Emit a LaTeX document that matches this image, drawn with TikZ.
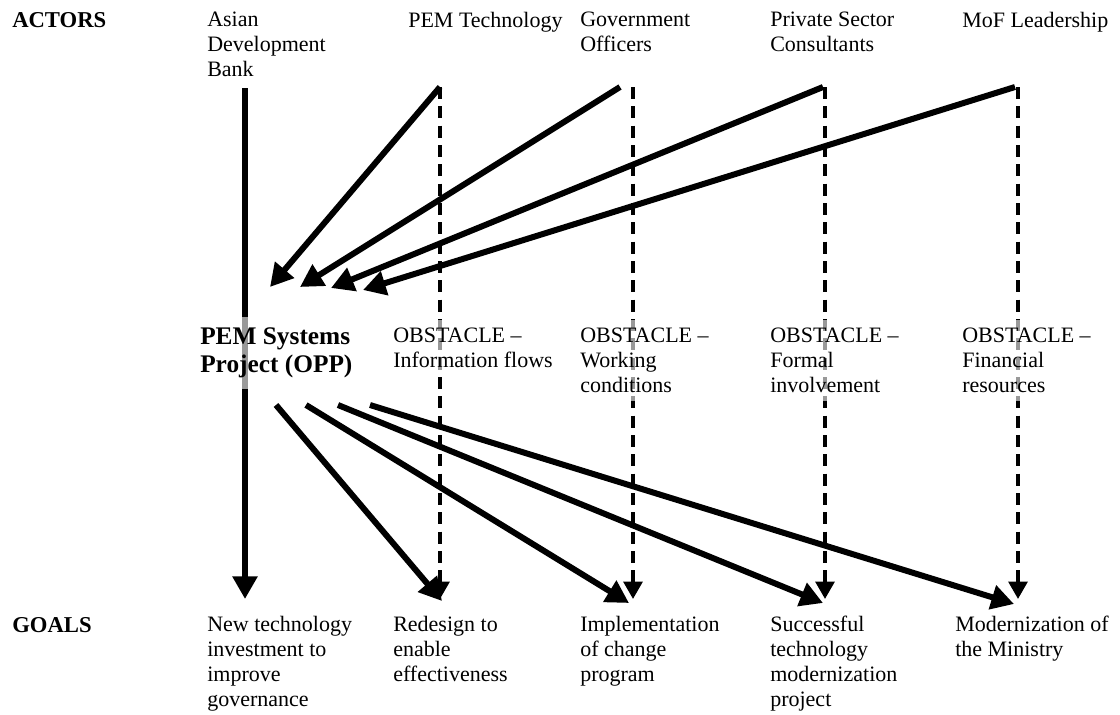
\documentclass[tikz,border=0pt]{standalone}
\usepackage{fontspec}
\setmainfont{Liberation Serif}
\usetikzlibrary{arrows.meta}
\begin{document}
\begin{tikzpicture}[x=0.75pt,y=-0.75pt,
  lbl/.style={anchor=north west,inner sep=0pt,align=left,font=\fontsize{16.5}{18.75}\selectfont},
  veil/.style={anchor=north west,inner xsep=0pt,inner ysep=6pt,align=left,fill=white,fill opacity=0.6,text opacity=1,font=\fontsize{16.5}{18.75}\selectfont},
  hdr/.style={anchor=north west,inner sep=0pt,align=left,font=\fontsize{17}{20}\selectfont\bfseries},
  title/.style={anchor=north west,inner xsep=0pt,inner ysep=8pt,align=left,fill=white,fill opacity=0.6,text opacity=1,font=\fontsize{19}{21}\selectfont\bfseries},
  solidarrow/.style={line width=4.5pt,-{Triangle[length=17pt,width=18pt]}},
  dasharrow/.style={line width=2.8pt,dash pattern=on 9pt off 5.5pt,-{Triangle[length=13pt,width=14pt]}}]
\useasboundingbox (0,0) rectangle (1120,714);
% headers
\node[hdr] (actors) at (12,12) {ACTORS};
\node[hdr] (goals) at (12,617) {GOALS};
% actors
\node[lbl] (adb) at (207,12) {Asian\\Development\\Bank};
\node[lbl] (pemt) at (408,12) {PEM Technology};
\node[lbl] (gov) at (580,12) {Government\\Officers};
\node[lbl] (psc) at (770,12) {Private Sector\\Consultants};
\node[lbl] (mof) at (962,12) {MoF Leadership};
% goals
\node[lbl] (g1) at (207,616) {New technology\\investment to\\improve\\governance};
\node[lbl] (g2) at (393,616) {Redesign to\\enable\\effectiveness};
\node[lbl] (g3) at (580,616) {Implementation\\of change\\program};
\node[lbl] (g4) at (770,616) {Successful\\technology\\modernization\\project};
\node[lbl] (g5) at (955,616) {Modernization of\\the Ministry};
% coordinates
\coordinate (adbTop) at (245,88);
\coordinate (adbBot) at (245,599);
\coordinate (t1) at (440,87);
\coordinate (t2) at (633,87);
\coordinate (t3) at (825,87);
\coordinate (t4) at (1018,87);
\coordinate (s2) at (620,87);
\coordinate (s3) at (823,87);
\coordinate (s4) at (1015,87);
\coordinate (b1) at (440,599);
\coordinate (b2) at (633,599);
\coordinate (b3) at (825,599);
\coordinate (b4) at (1018,599);
\coordinate (in1) at (270,287);
\coordinate (in2) at (300,287);
\coordinate (in3) at (331,288);
\coordinate (in4) at (363,290);
\coordinate (out1) at (276,405);
\coordinate (out2) at (306,405);
\coordinate (out3) at (338,405);
\coordinate (out4) at (370,405);
\coordinate (e1) at (442,601);
\coordinate (e2) at (629,603);
\coordinate (e3) at (823,603);
\coordinate (e4) at (1014,604);
% lines
\draw[solidarrow] (adbTop) -- (adbBot);
\foreach \i in {1,2,3,4} {
  \draw[dasharrow] (t\i) -- (b\i);
}
\draw[solidarrow] (t1) -- (in1);
\draw[solidarrow] (s2) -- (in2);
\draw[solidarrow] (s3) -- (in3);
\draw[solidarrow] (s4) -- (in4);
\foreach \i in {1,2,3,4} {
  \draw[solidarrow] (out\i) -- (e\i);
}
% obstacles (veiling the dashed lines)
\node[veil] (ob1) at (393,320) {OBSTACLE –\\Information flows};
\node[veil] (ob2) at (580,320) {OBSTACLE –\\Working\\conditions};
\node[veil] (ob3) at (770,320) {OBSTACLE –\\Formal\\involvement};
\node[veil] (ob4) at (962,320) {OBSTACLE –\\Financial\\resources};
% central project label
\node[title] (pem) at (200,317) {PEM Systems\\Project (OPP)};
\end{tikzpicture}
\end{document}
